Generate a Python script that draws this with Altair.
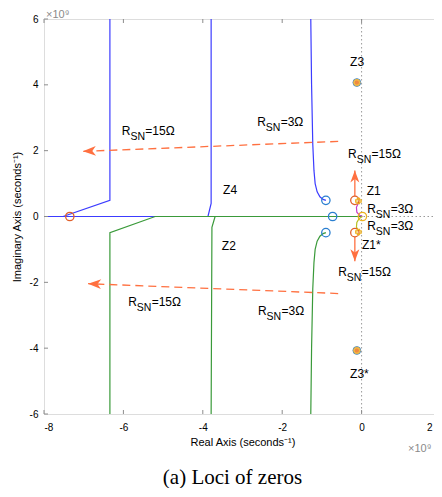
import altair as alt
import pandas as pd

# ---------------- data (x in 1e9 s^-1, y in 1e9 s^-1) ----------------
blue_far_x = [-6.34, -6.34, -7.52]
blue_far_y = [6.0, 0.49, 0.0]
blue_axis_x = [-8.0, -5.2]
blue_axis_y = [0.0, 0.0]
blue_mid_x = [-3.79, -3.79, -3.87]
blue_mid_y = [6.0, 0.40, 0.0]
blue_near_x = [-1.28, -1.26, -1.23, -1.20, -1.17, -1.12, -1.05, -0.97, -0.90]
blue_near_y = [6.0, 4.0, 2.2, 1.4, 1.0, 0.75, 0.60, 0.52, 0.49]
green_far_x = [-6.34, -6.34, -5.2, 0.0]
green_far_y = [-6.0, -0.49, 0.0, 0.0]
green_mid_x = [-3.69, -3.77, -3.79]
green_mid_y = [0.0, -0.33, -6.0]
green_near_x = [-0.90, -0.97, -1.05, -1.12, -1.17, -1.20, -1.23, -1.26, -1.28]
green_near_y = [-0.49, -0.52, -0.60, -0.75, -1.0, -1.4, -2.2, -4.0, -6.0]
magenta_x = [-0.07, -0.13, -0.12, -0.05, 0.02]
magenta_y = [0.44, 0.28, 0.13, 0.04, 0.0]
olive_x = [0.02, -0.06, -0.12, -0.13, -0.08]
olive_y = [0.0, -0.06, -0.18, -0.32, -0.44]

blue_zero_x = [-0.90, -0.73, -0.90]
blue_zero_y = [0.49, 0.0, -0.49]
orange_zero_x = [-7.35, -0.17, -0.17]
orange_zero_y = [0.0, 0.49, -0.49]
yellow_zero_x = [0.02]
yellow_zero_y = [0.0]
z3_x = [-0.12, -0.12]
z3_y = [4.07, -4.07]
star_x = [-0.08, -0.08]
star_y = [0.47, -0.47]

# dashed trend arrows
arrow_x0 = [-0.59, -0.59]
arrow_y0 = [2.28, -2.34]
arrow_x1 = [-7.02, -6.89]
arrow_y1 = [1.98, -2.04]
arrow_angle = [358, 2]
# short vertical arrows near Z1 / Z1*
small_x = [-0.17, -0.17]
small_y0 = [0.62, -0.62]
small_y1 = [1.40, -1.36]
small_angle = [90, 270]

# labels
rsn_x = [-6.04, -2.63, -0.34, 0.14, 0.14, -0.59, -2.61, -5.88]
rsn_y = [2.61, 2.86, 1.91, 0.24, -0.30, -1.70, -2.86, -2.61]
rsn_val = ["=15Ω", "=3Ω", "=15Ω", "=3Ω", "=3Ω", "=15Ω", "=3Ω", "=15Ω"]
zname = ["Z3", "Z3*", "Z1", "Z1*", "Z4", "Z2"]
zname_x = [-0.29, -0.29, 0.13, 0.01, -3.49, -3.52]
zname_y = [4.68, -4.77, 0.76, -0.88, 0.79, -0.90]

x_ticks = [-8, -6, -4, -2, 0, 2]
y_ticks = [-6, -4, -2, 0, 2, 4, 6]

# ---------------- tables ----------------
segs = [
    ("b_far", blue_far_x, blue_far_y),
    ("b_axis", blue_axis_x, blue_axis_y),
    ("b_mid", blue_mid_x, blue_mid_y),
    ("b_near", blue_near_x, blue_near_y),
    ("g_far", green_far_x, green_far_y),
    ("g_mid", green_mid_x, green_mid_y),
    ("g_near", green_near_x, green_near_y),
    ("mag", magenta_x, magenta_y),
    ("olv", olive_x, olive_y),
]
rows = []
for name, xs_, ys_ in segs:
    for i, (a, b) in enumerate(zip(xs_, ys_)):
        rows.append({"seg": name, "o": i, "x": a, "y": b})
lines_df = pd.DataFrame(rows)
seg_domain = [s[0] for s in segs]
seg_range = ["#3c3cff", "#3c3cff", "#3c3cff", "#3c3cff",
             "#3a9a3a", "#3a9a3a", "#3a9a3a", "#c63cc6", "#b8c020"]

W, H = 397, 395
FONT = "Liberation Sans"

xs = alt.Scale(domain=[-8, 2], nice=False, zero=False)
ys = alt.Scale(domain=[-6, 6], nice=False, zero=False)

xax = alt.Axis(values=x_ticks, title="Real Axis (seconds⁻¹)", labelExpr="'' + datum.value",
               ticks=False, domain=False, grid=False, labelPadding=8, titlePadding=4,
               titleFontWeight="normal",
               labelOffset={"condition": {"test": "datum.value == 2", "value": -9}, "value": 0})
yax = alt.Axis(values=y_ticks, title="Imaginary Axis (seconds⁻¹)", labelExpr="'' + datum.value",
               ticks=False, domain=False, grid=False, labelPadding=6, titlePadding=7,
               titleFontWeight="normal")

base = alt.Chart(lines_df)

lines = base.mark_line(strokeWidth=1.2, clip=True).encode(
    x=alt.X("x:Q", scale=xs, axis=xax),
    y=alt.Y("y:Q", scale=ys, axis=yax),
    detail="seg:N",
    order="o:Q",
    color=alt.Color("seg:N", scale=alt.Scale(domain=seg_domain, range=seg_range), legend=None),
)

# dotted zero axes
zero_v = alt.Chart(pd.DataFrame({"v": [0]})).mark_rule(
    color="#9a9a9a", strokeDash=[1.5, 2.5], strokeWidth=1).encode(x=alt.X("v:Q", scale=xs))
zero_h = alt.Chart(pd.DataFrame({"v": [0]})).mark_rule(
    color="#9a9a9a", strokeDash=[1.5, 2.5], strokeWidth=1).encode(y=alt.Y("v:Q", scale=ys))

# inward ticks
xt = pd.DataFrame({"v": x_ticks})
yt = pd.DataFrame({"v": y_ticks})
TC = "#8c8c8c"
tick_b = alt.Chart(xt).mark_rule(color=TC).encode(
    x=alt.X("v:Q", scale=xs), y=alt.value(H), y2=alt.value(H - 4))
tick_t = alt.Chart(xt).mark_rule(color=TC).encode(
    x=alt.X("v:Q", scale=xs), y=alt.value(0), y2=alt.value(4))
tick_l = alt.Chart(yt).mark_rule(color=TC).encode(
    y=alt.Y("v:Q", scale=ys), x=alt.value(0), x2=alt.value(4))
tick_r = alt.Chart(yt).mark_rule(color=TC).encode(
    y=alt.Y("v:Q", scale=ys), x=alt.value(W), x2=alt.value(W - 4))

# dashed arrows
arr_df = pd.DataFrame({"x0": arrow_x0, "y0": arrow_y0, "x1": arrow_x1, "y1": arrow_y1,
                       "ang": arrow_angle})
ORANGE = "#ff7040"
dashed = alt.Chart(arr_df).mark_rule(color=ORANGE, strokeDash=[8, 5], strokeWidth=1.3).encode(
    x=alt.X("x0:Q", scale=xs), y=alt.Y("y0:Q", scale=ys), x2="x1:Q", y2="y1:Q")
HEAD = "M0,0 L2,-0.75 L1.45,0 L2,0.75 Z"
heads = alt.Chart(arr_df).mark_point(shape=HEAD, filled=True, size=169, opacity=1,
                                     color=ORANGE).encode(
    x=alt.X("x1:Q", scale=xs), y=alt.Y("y1:Q", scale=ys), angle=alt.Angle("ang:Q", scale=None))

sm_df = pd.DataFrame({"x": small_x, "y0": small_y0, "y1": small_y1, "ang": small_angle})
small_lines = alt.Chart(sm_df).mark_rule(color=ORANGE, strokeWidth=1.3).encode(
    x=alt.X("x:Q", scale=xs), y=alt.Y("y0:Q", scale=ys), y2="y1:Q")
small_heads = alt.Chart(sm_df).mark_point(shape=HEAD, filled=True, size=144, opacity=1,
                                          color=ORANGE).encode(
    x=alt.X("x:Q", scale=xs), y=alt.Y("y1:Q", scale=ys), angle=alt.Angle("ang:Q", scale=None))


def circles(xv, yv, color, size=70, filled=False, sw=1.3, shape="circle"):
    return alt.Chart(pd.DataFrame({"x": xv, "y": yv})).mark_point(
        shape=shape, filled=filled, size=size, color=color, strokeWidth=sw, opacity=1).encode(
        x=alt.X("x:Q", scale=xs), y=alt.Y("y:Q", scale=ys))


c_blue = circles(blue_zero_x, blue_zero_y, "#2a7fd0")
c_orange = circles(orange_zero_x, orange_zero_y, "#e0602a")
c_yellow = circles(yellow_zero_x, yellow_zero_y, "#edb120")
c_star = circles(star_x, star_y, "#edb120", size=30, sw=1.2, shape="cross")
z3_a = circles(z3_x, z3_y, "#f5cc50", size=60, filled=True)
z3_b = circles(z3_x, z3_y, "#3a8ad8", size=60, sw=1.0)
z3_c = circles(z3_x, z3_y, "#f08a40", size=20, filled=True)
z3_d = circles(z3_x, z3_y, "#eab040", size=42, sw=1.0)

# text labels
FS = 12
rsn_df = pd.DataFrame({"x": rsn_x, "y": rsn_y, "val": rsn_val})
tb = alt.Chart(rsn_df)
enc = dict(x=alt.X("x:Q", scale=xs), y=alt.Y("y:Q", scale=ys))
t_r = tb.mark_text(text="R", align="left", baseline="middle", font=FONT, fontSize=FS,
                   color="black").encode(**enc)
t_sn = tb.mark_text(text="SN", align="left", baseline="middle", font=FONT, fontSize=10.5,
                    dx=8.6, dy=6, color="black").encode(**enc)
t_val = tb.mark_text(align="left", baseline="middle", font=FONT, fontSize=FS, dx=23.5,
                     color="black").encode(text="val:N", **enc)

z_df = pd.DataFrame({"x": zname_x, "y": zname_y, "t": zname})
t_z = alt.Chart(z_df).mark_text(align="left", baseline="middle", font=FONT, fontSize=FS,
                                color="black").encode(text="t:N", **enc)

# exponent markers
exp_df = pd.DataFrame({"t": ["×10⁹"]})
exp_top = alt.Chart(exp_df).mark_text(align="left", baseline="alphabetic", font=FONT,
                                      fontSize=11, color="#8a8a8a").encode(
    text="t:N", x=alt.value(2), y=alt.value(-1))
exp_bot = alt.Chart(exp_df).mark_text(align="left", baseline="alphabetic", font=FONT,
                                      fontSize=11, color="#8a8a8a").encode(
    text="t:N", x=alt.value(364), y=alt.value(H + 38))

chart = alt.layer(
    zero_v, zero_h, lines, dashed, heads, small_lines, small_heads,
    c_blue, c_orange, c_yellow, c_star, z3_a, z3_b, z3_c, z3_d,
    t_r, t_sn, t_val, t_z, tick_b, tick_t, tick_l, tick_r, exp_top, exp_bot,
).properties(
    width=W, height=H,
    title=alt.TitleParams("(a) Loci of zeros", orient="bottom", font="Liberation Serif",
                          fontSize=21, fontWeight="normal", color="black", offset=13,
                          anchor="middle", dx=-10),
    autosize=alt.AutoSizeParams(type="none"),
    padding={"left": 36, "top": 11, "right": -7, "bottom": 74},
).configure_view(
    stroke="#8c8c8c", strokeWidth=1
).configure_axis(
    labelFont=FONT, labelFontSize=11, labelColor="#808080",
    titleFont=FONT, titleFontSize=12, titleColor="black", titleFontWeight="normal",
).configure(background="white")

chart.save("out.html", embed_options={"renderer": "svg", "actions": False})
